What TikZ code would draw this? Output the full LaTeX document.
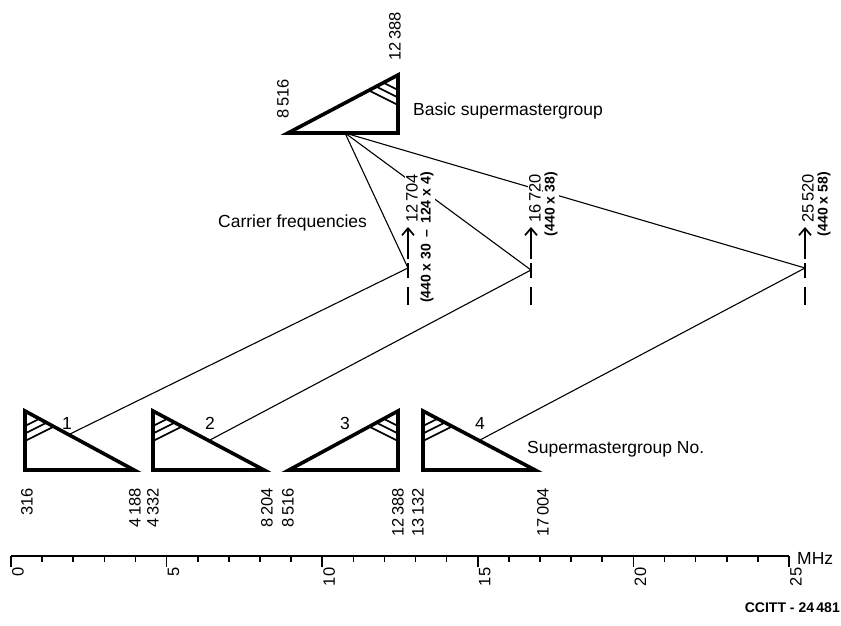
\documentclass[tikz,border=0pt]{standalone}
\usepackage{fontspec}
\setmainfont{Liberation Sans}
\usetikzlibrary{arrows.meta}

\begin{document}
\begin{tikzpicture}[
    x=1pt,
    y=-1pt,
    group/.style={
        line width=3.6pt
    },
    hatch/.style={
        line width=1.6pt
    },
    link/.style={
        line width=1.1pt
    },
    carrier/.style={
        line width=1.8pt
    },
    carriertip/.style={
        -{Straight Barb[length=7pt,width=12pt,line width=1.7pt]},
        line width=1.8pt
    },
    scaleline/.style={
        line width=1.6pt
    },
    label/.style={
        font=\fontsize{17.5}{20}\selectfont,
        inner sep=0pt
    },
    num/.style={
        rotate=90,
        anchor=east,
        font=\fontsize{16.5}{18}\selectfont,
        inner sep=0pt
    },
    freq/.style={
        rotate=90,
        anchor=west,
        font=\fontsize{16.5}{18}\selectfont,
        inner sep=1pt,
        fill=white
    },
    formula/.style={
        rotate=90,
        anchor=east,
        font=\bfseries\fontsize{14}{16}\selectfont,
        inner sep=1pt,
        fill=white
    }
]

\useasboundingbox (0,0) rectangle (841,626);

\foreach \d in {15,22.5,30} \draw[hatch] (398,75+\d) -- ++(-\d,-\d/2);
\draw[group] (398,75) -- (398,133) -- (288,133) -- cycle;

\foreach \d in {15,22.5,30} \draw[hatch] (25,411+\d) -- ++(\d,-\d/2);
\draw[group] (25,411) -- (25,470) -- (134,470) -- cycle;

\foreach \d in {15,22.5,30} \draw[hatch] (153,411+\d) -- ++(\d,-\d/2);
\draw[group] (153,411) -- (153,470) -- (264,470) -- cycle;

\foreach \d in {15,22.5,30} \draw[hatch] (398,411+\d) -- ++(-\d,-\d/2);
\draw[group] (398,411) -- (398,470) -- (289,470) -- cycle;

\foreach \d in {15,22.5,30} \draw[hatch] (423,411+\d) -- ++(\d,-\d/2);
\draw[group] (423,411) -- (423,470) -- (535,470) -- cycle;

\coordinate (basic) at (345,133);
\coordinate (g1) at (70,434);
\coordinate (g2) at (210,440);
\coordinate (g4) at (480,440);

\coordinate (c1) at (408,268);
\coordinate (c2) at (531,270);
\coordinate (c3) at (805,268);

\draw[link] (g1) -- (c1);
\draw[link] (g2) -- (c2);
\draw[link] (g4) -- (c3);
\draw[link] (basic) -- (c1);
\draw[link] (basic) -- (c2);
\draw[link] (basic) -- (c3);

\draw[carrier] (c1) ++(0,19) -- ++(0,18);
\draw[carrier] (c1) ++(0,10) -- ++(0,-15);
\draw[carriertip] (c1) ++(0,-9) -- ++(0,-32);
\draw[carrier] (c2) ++(0,17) -- ++(0,18);
\draw[carrier] (c2) ++(0,8) -- ++(0,-15);
\draw[carriertip] (c2) ++(0,-11) -- ++(0,-32);
\draw[carrier] (c3) ++(0,19) -- ++(0,18);
\draw[carrier] (c3) ++(0,10) -- ++(0,-15);
\draw[carriertip] (c3) ++(0,-9) -- ++(0,-32);

\node[freq] (f1) at (412,224) {12\,704};
\node[formula] (m1) at (427,171) {(440 x 30 \,–\, 124 x 4)};
\node[freq] (f2) at (535,224) {16\,720};
\node[formula] (m2) at (551,171) {(440 x 38)};
\node[freq] (f3) at (808,224) {25\,520};
\node[formula] (m3) at (824,171) {(440 x 58)};

\node[label, anchor=west] (basiclbl) at (413,111) {Basic supermastergroup};
\node[label, anchor=west] (carrierlbl) at (218,223) {Carrier frequencies};
\node[label, anchor=west] (smglbl) at (527,449) {Supermastergroup No.};

\node[label] (n1) at (67,423) {1};
\node[label] (n2) at (210,423) {2};
\node[label] (n3) at (345,423) {3};
\node[label] (n4) at (480,423) {4};

\node[num, anchor=west] (top8516) at (283,119) {8\,516};
\node[num, anchor=west] (top12388) at (395,61) {12\,388};

\node[num] (b316) at (27,488) {316};
\node[num] (b4188) at (135,488) {4\,188};
\node[num] (b4332) at (153,488) {4\,332};
\node[num] (b8204) at (267,488) {8\,204};
\node[num] (b8516) at (288,488) {8\,516};
\node[num] (b12388) at (398,488) {12\,388};
\node[num] (b13132) at (418,488) {13\,132};
\node[num] (b17004) at (543,488) {17\,004};

\coordinate (mhz0) at (11,556);
\coordinate (mhz25) at (789,556);
\draw[scaleline] (mhz0) -- (mhz25);
\foreach \i in {0,...,25} \draw[scaleline] (11+31.12*\i,556) -- ++(0,6);
\foreach \i in {0,5,...,25}
    \draw[scaleline] (11+31.12*\i,556) -- ++(0,11)
        node[num, anchor=east, yshift=-7pt] (ax\i) {\i};

\node[label, anchor=west] (unit) at (797,558) {MHz};
\node[anchor=east, inner sep=0pt, font=\bfseries\fontsize{14}{16}\selectfont] (ref) at (840,608) {CCITT - 24\,481};

\end{tikzpicture}
\end{document}
